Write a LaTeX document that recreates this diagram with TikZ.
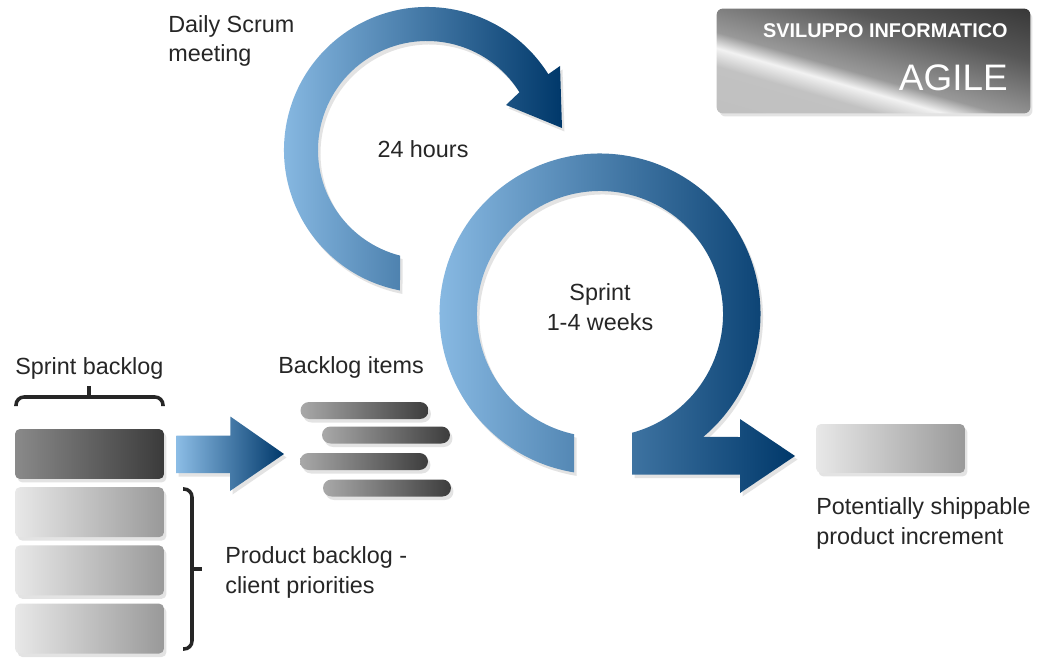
\documentclass[tikz,border=0pt]{standalone}
\usepackage{fontspec}
\setmainfont{Liberation Sans}
\usepackage{tikz}
\usetikzlibrary{positioning, shadows, calc}

\definecolor{scrumlight}{HTML}{8CBDE6}
\definecolor{scrumdark}{HTML}{00386A}
\pgfdeclareverticalshading{badgeshade}{100bp}{color(0bp)=(black!25); color(25bp)=(black!25); color(39bp)=(black!24); color(43bp)=(black!5); color(46.5bp)=(black!40); color(60bp)=(black!66); color(75bp)=(black!82); color(100bp)=(black!82)}

\begin{document}
\begin{tikzpicture}[x=0.02cm, y=0.02cm, node distance=0.15cm,
    txt/.style={font=\fontsize{13.3}{17}\selectfont, inner sep=0pt, align=left, text=black!85},
    shadowed/.style={drop shadow={opacity=.22, shadow xshift=.05cm, shadow yshift=-.07cm}},
    ring/.style={shadowed, left color=scrumlight, right color=scrumdark},
    darkbox/.style={shadowed, minimum width=2.98cm, minimum height=1cm, rounded corners=0.1cm, left color=black!46, right color=black!77},
    lightbox/.style={shadowed, minimum width=2.98cm, minimum height=1cm, rounded corners=0.1cm, left color=black!9, right color=black!40},
    itembar/.style={shadowed, minimum width=2.56cm, minimum height=0.34cm, rounded corners=0.17cm, left color=black!34, right color=black!76},
    brace/.style={line width=2pt, black!85, rounded corners=0.16cm}]
   \fill[white] (0,0) rectangle (1045,657);
   \useasboundingbox (0,0) rectangle (1045,657);

   % 标题框
   \node[shadowed, fill=black!50, minimum width=6.26cm, minimum height=2.08cm, rounded corners=0.12cm] (badge) at (873.5,596) {};
   \begin{scope}
      \clip[rounded corners=0.12cm] (badge.south west) rectangle (badge.north east);
      \shade[shading=badgeshade, transform canvas={rotate around={-16:(badge.center)}}]
         ($(badge.center)+(-190,-110)$) rectangle ($(badge.center)+(190,110)$);
   \end{scope}
   \node[anchor=base east, inner sep=0pt, text=white, font=\bfseries\fontsize{11.3}{13}\selectfont] (title) at (1008,619) {SVILUPPO INFORMATICO};
   \node[anchor=base east, inner sep=0pt, text=white, font=\fontsize{21}{24}\selectfont] (agile) at (1008,566) {AGILE};

   % 两个循环箭头
   \coordinate (dsc) at (427,507);
   \coordinate (spc) at (600,343);
   \shade[ring] ([shift={(259.1:143)}]dsc) arc[start angle=259.1, end angle=32, radius=143]
      -- (560,591) -- (562,529) -- (506,552)
      -- ([shift={(32:109)}]dsc) arc[start angle=32, end angle=255.7, radius=109] -- cycle;
   \shade[ring] ([shift={(260.7:160.5)}]spc) arc[start angle=260.7, end angle=-50, radius=160.5]
      -- (740,220) -- (740,238) -- (795,201) -- (740,164) -- (740,182.5) -- (632,182.5)
      -- ([shift={(-74.9:123)}]spc) arc[start angle=-74.9, end angle=257.8, radius=123] -- cycle;

   % 文字
   \node[txt, anchor=base west] (daily) at (168,595) {Daily Scrum\\meeting};
   \node[txt, anchor=base] (hours) at (423,500) {24 hours};
   \node[txt, anchor=base, align=center] (sprint) at (600,327) {Sprint\\1-4 weeks};
   \node[txt, anchor=base west] (sbl) at (15,283) {Sprint backlog};
   \node[txt, anchor=base west] (bli) at (278,284) {Backlog items};
   \node[txt, anchor=base west] (pbl) at (225,64) {Product backlog -\\client priorities};
   \node[txt, anchor=base west] (psi) at (816,113) {Potentially shippable\\product increment};

   % 左侧的 backlog
   \node[darkbox] (sb) at (89.5,203) {};
   \node[lightbox] (pb1) [below=of sb] {};
   \node[lightbox] (pb2) [below=of pb1] {};
   \node[lightbox] (pb3) [below=of pb2] {};
   \draw[brace] (16,251) |- (163,260) -- (163,251);
   \draw[brace] (89,260) -- (89,271);
   \draw[brace] (183,168) -| (192,8) -- (183,8);
   \draw[brace] (192,88) -- (202,88);

   % backlog items
   \node[itembar] (item1) at (364.5,246.5) {};
   \node[itembar] (item2) at (386,222) {};
   \node[itembar] (item3) at (364,195.5) {};
   \node[itembar] (item4) at (387,169) {};

   % 中间的箭头
   \coordinate[right=0.24cm of sb.east] (tail);
   \coordinate (tip) at (284,203);
   \shade[ring] (tail) ++(0,18.5) -- ++(54,0) -- ++(0,19) -- (tip) -- ++(-54,-37) -- ++(0,18) -- ++(-54,0) -- cycle;

   % 增量
   \node[lightbox, minimum height=0.98cm] (incr) at (890.5,208.5) {};
\end{tikzpicture}
\end{document}
